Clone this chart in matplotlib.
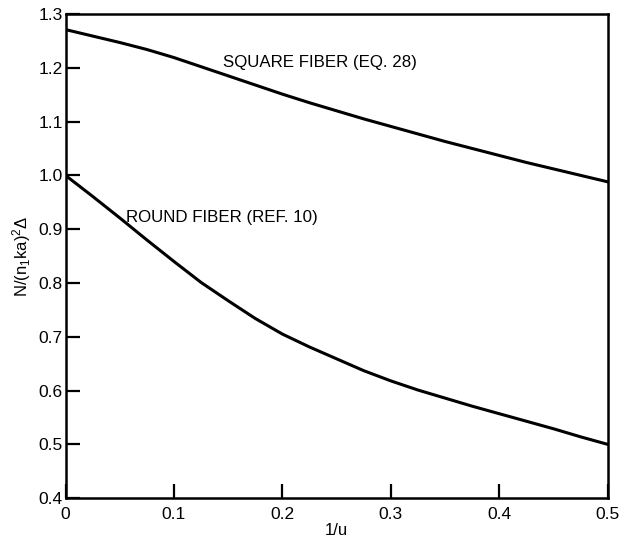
import matplotlib
matplotlib.use('Agg')
import matplotlib.pyplot as plt

plt.rcParams['font.family'] = ['Liberation Sans', 'DejaVu Sans']
plt.rcParams['mathtext.fontset'] = 'custom'
plt.rcParams['mathtext.rm'] = 'Liberation Sans'
plt.rcParams['mathtext.it'] = 'Liberation Sans'

# values
inv_u = [0.0, 0.025, 0.05, 0.075, 0.1, 0.125, 0.15, 0.175, 0.2, 0.225, 0.25,
         0.275, 0.3, 0.325, 0.35, 0.375, 0.4, 0.425, 0.45, 0.475, 0.5]
square_fiber = [1.271, 1.259, 1.247, 1.234, 1.219, 1.202, 1.185, 1.168, 1.151, 1.135, 1.120,
                1.105, 1.091, 1.077, 1.063, 1.050, 1.037, 1.024, 1.012, 1.000, 0.988]
round_fiber = [1.000, 0.961, 0.921, 0.880, 0.840, 0.801, 0.767, 0.734, 0.705, 0.681, 0.659,
               0.637, 0.618, 0.601, 0.586, 0.571, 0.557, 0.543, 0.529, 0.514, 0.500]

x_ticks = [0, 0.1, 0.2, 0.3, 0.4, 0.5]
x_tick_labels = ['0', '0.1', '0.2', '0.3', '0.4', '0.5']
y_ticks = [0.4, 0.5, 0.6, 0.7, 0.8, 0.9, 1.0, 1.1, 1.2, 1.3]
y_tick_labels = ['0.4', '0.5', '0.6', '0.7', '0.8', '0.9', '1.0', '1.1', '1.2', '1.3']

fig = plt.figure(figsize=(6.24, 5.38), dpi=100)
ax = fig.add_axes([0.105, 0.074, 0.869, 0.90])

ax.plot(inv_u, square_fiber, color='black', lw=2.2, solid_joinstyle='round')
ax.plot(inv_u, round_fiber, color='black', lw=2.2, solid_joinstyle='round')

ax.text(0.145, 1.209, 'SQUARE FIBER (EQ. 28)', fontsize=12.2, va='center', ha='left')
ax.text(0.056, 0.921, 'ROUND FIBER (REF. 10)', fontsize=12.2, va='center', ha='left')

ax.set_xlim(0, 0.5)
ax.set_ylim(0.4, 1.3)
ax.set_xticks(x_ticks)
ax.set_xticklabels(x_tick_labels)
ax.set_yticks(y_ticks)
ax.set_yticklabels(y_tick_labels)
ax.tick_params(axis='both', direction='in', length=10, width=1.6, labelsize=12.5)
ax.tick_params(axis='x', pad=6)
ax.tick_params(axis='y', pad=2)
for sp in ax.spines.values():
    sp.set_linewidth(1.8)

ax.set_xlabel('1/u', fontsize=12, labelpad=1)
ax.set_ylabel(r'$\mathregular{N/(n_1ka)^2\Delta}$', fontsize=12, labelpad=4)

fig.savefig('out.png', dpi=100)
